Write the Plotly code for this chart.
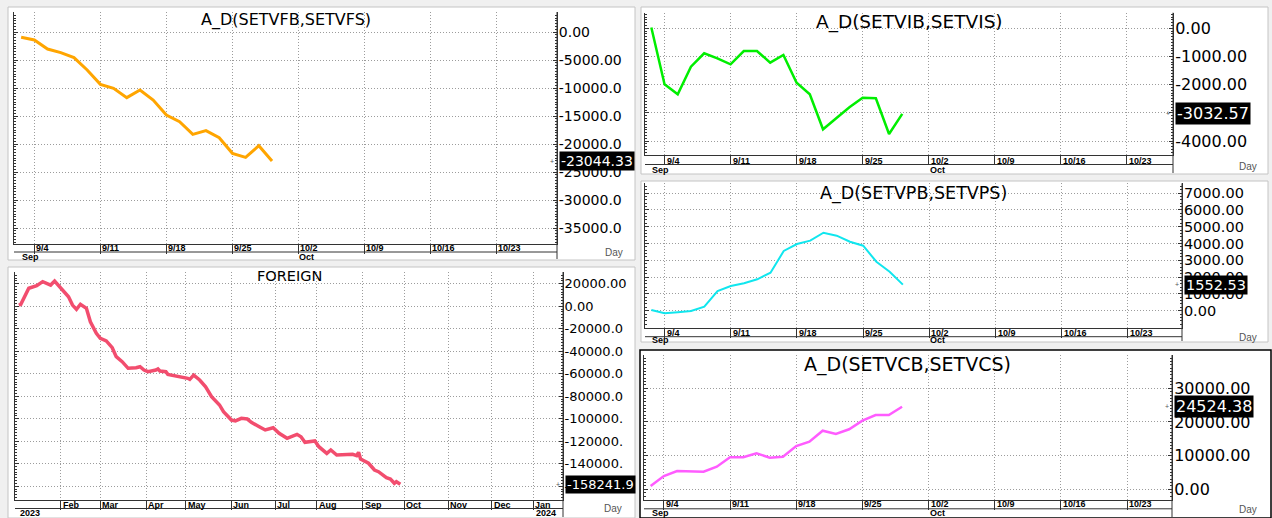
import plotly.graph_objects as go

W, H = 1272, 518

# ---------------- data ----------------
sep_dates = ["2023-09-01", "2023-09-04", "2023-09-05", "2023-09-06", "2023-09-07", "2023-09-08",
             "2023-09-11", "2023-09-12", "2023-09-13", "2023-09-14", "2023-09-15",
             "2023-09-18", "2023-09-19", "2023-09-20", "2023-09-21", "2023-09-22",
             "2023-09-25", "2023-09-26", "2023-09-27", "2023-09-28"]
ad_setvf = [-946, -1429, -3036, -3690, -4583, -6786, -9345, -10060, -11726, -10357, -12143,
            -14821, -16012, -18274, -17619, -18869, -21667, -22381, -20298, -23044.33]
ad_setvi = [30, -1986, -2340, -1362, -887, -1064, -1277, -805, -805, -1220, -947,
            -1929, -2340, -3582, -3191, -2801, -2461, -2482, -3748, -3032.57]
ad_setvp = [42, -155, -95, -18, 238, 1173, 1470, 1631, 1869, 2262, 3554,
            3970, 4167, 4643, 4464, 4107, 3869, 2917, 2321, 1552.53]
ad_setvc = [980, 3950, 5435, 5227, 5227, 6712, 9504, 9504, 10692, 9385, 9682,
            12860, 14137, 17404, 16424, 17820, 20374, 22067, 22067, 24524.38]

foreign_dates = ["2023-01-03", "2023-01-04", "2023-01-10", "2023-01-16", "2023-01-19", "2023-01-25",
                 "2023-01-27", "2023-02-01", "2023-02-07", "2023-02-09", "2023-02-13", "2023-02-15",
                 "2023-02-20", "2023-02-22", "2023-02-27", "2023-03-01", "2023-03-06", "2023-03-09",
                 "2023-03-13", "2023-03-16", "2023-03-21", "2023-03-27", "2023-03-29", "2023-03-31",
                 "2023-04-04", "2023-04-10", "2023-04-11", "2023-04-12", "2023-04-17", "2023-04-18",
                 "2023-04-24", "2023-04-27", "2023-05-02", "2023-05-03", "2023-05-05", "2023-05-10",
                 "2023-05-15", "2023-05-18", "2023-05-24", "2023-05-26", "2023-06-01", "2023-06-05",
                 "2023-06-08", "2023-06-13", "2023-06-15", "2023-06-21", "2023-06-26", "2023-06-30",
                 "2023-07-05", "2023-07-11", "2023-07-13", "2023-07-18", "2023-07-20", "2023-07-24",
                 "2023-07-31", "2023-08-02", "2023-08-08", "2023-08-10", "2023-08-15", "2023-08-22",
                 "2023-08-25", "2023-08-29", "2023-08-30", "2023-08-31", "2023-09-06", "2023-09-11",
                 "2023-09-13", "2023-09-19", "2023-09-21", "2023-09-25", "2023-09-26", "2023-09-28"]
foreign_values = [1000, 1700, 15900, 18200, 21800, 18800,
                  22400, 16400, 8400, 1000, -2800, 1700,
                  -1900, -13800, -24100, -28500, -30900, -36900,
                  -44900, -49300, -55200, -54700, -53800, -56700,
                  -58200, -56700, -55800, -57600, -58200, -60600,
                  -61800, -62700, -64100, -65000, -61200, -65600,
                  -71600, -80400, -87800, -93800, -101200, -102000,
                  -99700, -100300, -103200, -107100, -110000, -108000,
                  -113000, -117400, -116000, -113900, -116000, -121000,
                  -119800, -124900, -130800, -127800, -132300, -132300,
                  -131700, -132900, -129900, -135800, -139600, -145600,
                  -147100, -152400, -153600, -157400, -156000, -158241.9]

week_ticks = ["2023-09-04", "2023-09-11", "2023-09-18", "2023-09-25",
              "2023-10-02", "2023-10-09", "2023-10-16", "2023-10-23"]
week_labels = ["9/4", "9/11", "9/18", "9/25", "10/2", "10/9", "10/16", "10/23"]
sep_month_ticks = ["2023-09-01", "2023-10-02"]
sep_month_labels = ["Sep", "Oct"]

month_ticks = ["2023-02-01", "2023-03-01", "2023-04-03", "2023-05-01", "2023-06-01", "2023-07-03",
               "2023-08-01", "2023-09-01", "2023-10-02", "2023-11-01", "2023-12-01", "2024-01-01"]
month_labels = ["Feb", "Mar", "Apr", "May", "Jun", "Jul", "Aug", "Sep", "Oct", "Nov", "Dec", "Jan"]
year_ticks = ["2023-01-02", "2024-01-01"]
year_labels = ["2023", "2024"]

tl_yticks = [0, -5000, -10000, -15000, -20000, -25000, -30000, -35000]
tl_ytext = ["0.00", "-5000.00", "-10000.0", "-15000.0", "-20000.0", "-25000.0", "-30000.0", "-35000.0"]
bl_yticks = [20000, 0, -20000, -40000, -60000, -80000, -100000, -120000, -140000, -160000]
bl_ytext = ["20000.00", "0.00", "-20000.0", "-40000.0", "-60000.0", "-80000.0",
            "-100000.", "-120000.", "-140000.", "-160000."]
tr_yticks = [0, -1000, -2000, -3000, -4000]
tr_ytext = ["0.00", "-1000.00", "-2000.00", "-3000.00", "-4000.00"]
mr_yticks = [0, 1000, 2000, 3000, 4000, 5000, 6000, 7000]
mr_ytext = ["0.00", "1000.00", "2000.00", "3000.00", "4000.00", "5000.00", "6000.00", "7000.00"]
br_yticks = [0, 10000, 20000, 30000]
br_ytext = ["0.00", "10000.00", "20000.00", "30000.00"]

# ---------------- styling / layout ----------------
AX = "#333333"
GRID = "#9c9c9c"
TF = "DejaVu Sans"
XF = "Liberation Sans, Arial, sans-serif"

panels = [
    dict(dates=sep_dates, values=ad_setvf, title="A_D(SETVFB,SETVFS)", color="#ffa500", lw=3,
         plot=(14, 12, 557, 244), panel=(8, 7, 635, 260), border="#c4c4c4", bw=1,
         xrange=["2023-08-31 11:00", "2023-10-27 14:00"], yrange=[-37857, 3571],
         yticks=tl_yticks, ytext=tl_ytext, yminor=500, tfs=14, ttfs=16, title_y=20.5,
         xticks=week_ticks, xlabels=week_labels, mticks=sep_month_ticks, mlabels=sep_month_labels,
         row1=248.3, row2=256.7, rowline=252, day=(613.5, 252.5)),
    dict(dates=foreign_dates, values=foreign_values, title="FOREIGN", color="#f24d6e", lw=3.5,
         plot=(15, 272, 563, 500), panel=(8, 267, 635, 518), border="#c4c4c4", bw=1,
         xrange=["2022-12-30 01:30", "2024-01-19 21:00"], yrange=[-172270, 30400],
         yticks=bl_yticks, ytext=bl_ytext, yminor=2500, tfs=13, ttfs=14.5, title_y=276,
         xticks=month_ticks, xlabels=month_labels, mticks=year_ticks, mlabels=year_labels,
         row1=505.0, row2=513.3, rowline=508.5, day=(613, 508), mshift=2),
    dict(dates=sep_dates, values=ad_setvi, title="A_D(SETVIB,SETVIS)", color="#00ee00", lw=2.5,
         plot=(645, 12.7, 1173, 155), panel=(641, 7, 1268, 174), border="#c4c4c4", bw=1,
         xrange=["2023-08-31 12:30", "2023-10-26 12:00"], yrange=[-4493, 553],
         yticks=tr_yticks, ytext=tr_ytext, yminor=100, tfs=16, ttfs=18.5, title_y=21.7,
         xticks=week_ticks, xlabels=week_labels, mticks=sep_month_ticks, mlabels=sep_month_labels,
         row1=160.5, row2=170.0, rowline=164.5, day=(1247.5, 166)),
    dict(dates=sep_dates, values=ad_setvp, title="A_D(SETVPB,SETVPS)", color="#10e6ee", lw=2,
         plot=(645, 183.3, 1182, 327.7), panel=(641, 181, 1268, 342), border="#c4c4c4", bw=1,
         xrange=["2023-08-31 12:30", "2023-10-27 02:00"], yrange=[-1012, 7583],
         yticks=mr_yticks, ytext=mr_ytext, yminor=200, tfs=14.5, ttfs=17.5, title_y=193,
         xticks=week_ticks, xlabels=week_labels, mticks=sep_month_ticks, mlabels=sep_month_labels,
         row1=332.5, row2=340.0, rowline=336.7, day=(1247.5, 337)),
    dict(dates=sep_dates, values=ad_setvc, title="A_D(SETVCB,SETVCS)", color="#ff5cff", lw=2.5,
         plot=(644, 355, 1172, 500.3), panel=(640, 350, 1271, 518), border="#000000", bw=1.5,
         xrange=["2023-08-31 12:00", "2023-10-26 09:30"], yrange=[-3267, 39890],
         yticks=br_yticks, ytext=br_ytext, yminor=1000, tfs=16, ttfs=19, title_y=364,
         xticks=week_ticks, xlabels=week_labels, mticks=sep_month_ticks, mlabels=sep_month_labels,
         row1=504.2, row2=512.8, rowline=508.8, day=(1247.5, 509)),
]


def fx(px):
    return px / W


def fy(py):
    return 1 - py / H


fig = go.Figure()
axes = {}
annotations = []
shapes = []

for i, p in enumerate(panels, start=1):
    xa = "x" if i == 1 else f"x{i}"
    ya = "y" if i == 1 else f"y{i}"
    xkey = "xaxis" if i == 1 else f"xaxis{i}"
    ykey = "yaxis" if i == 1 else f"yaxis{i}"
    l, t, r, b = p["plot"]
    pl, pt, pr, pb = p["panel"]

    fig.add_trace(go.Scatter(x=p["dates"], y=p["values"], mode="lines",
                             line=dict(color=p["color"], width=p["lw"]),
                             xaxis=xa, yaxis=ya, hoverinfo="skip", showlegend=False))

    axes[xkey] = dict(domain=[fx(l), fx(r)], anchor=ya, type="date", range=p["xrange"],
                      rangebreaks=[dict(bounds=["sat", "mon"])],
                      tickmode="array", tickvals=p["xticks"], showticklabels=False,
                      ticks="outside", ticklen=9, tickcolor=AX, tickwidth=1,
                      showgrid=True, gridcolor=GRID, griddash="1px,2px", gridwidth=1,
                      showline=True, linecolor=AX, linewidth=1, zeroline=False, fixedrange=True)
    axes[ykey] = dict(domain=[fy(b), fy(t)], anchor=xa, side="right", range=p["yrange"],
                      tickmode="array", tickvals=p["yticks"], ticktext=p["ytext"],
                      tickfont=dict(family=TF, size=p["tfs"], color="#000000"),
                      ticks="inside", ticklen=4, tickcolor=AX, tickwidth=1,
                      ticklabelstandoff=-2,
                      minor=dict(tickmode="linear", tick0=0, dtick=p["yminor"], ticks="inside",
                                 ticklen=2, tickcolor=AX, showgrid=False),
                      mirror="ticks", showline=True, linecolor=AX, linewidth=1,
                      showgrid=True, gridcolor=GRID, griddash="1px,2px", gridwidth=1,
                      zeroline=False, fixedrange=True)

    # panel background & border
    shapes.append(dict(type="rect", xref="paper", yref="paper", layer="below",
                       x0=fx(pl), x1=fx(pr), y0=fy(pb), y1=fy(pt),
                       fillcolor="white", line=dict(color=p["border"], width=p["bw"])))
    # right axis line extended to the panel bottom
    shapes.append(dict(type="line", xref="paper", yref="paper",
                       x0=fx(r), x1=fx(r), y0=fy(t), y1=fy(pb - 1),
                       line=dict(color=AX, width=1)))
    # line closing the date-label row
    shapes.append(dict(type="line", xref="paper", yref="paper",
                       x0=fx(l), x1=fx(r), y0=fy(p["rowline"]), y1=fy(p["rowline"]),
                       line=dict(color=AX, width=1)))

    # title
    annotations.append(dict(text=p["title"], xref="paper", yref="paper",
                            x=fx((l + r) / 2), y=fy(p["title_y"]), xanchor="center", yanchor="middle",
                            showarrow=False, font=dict(family=TF, size=p["ttfs"], color="#000000")))
    # date labels
    for d, txt in zip(p["xticks"], p["xlabels"]):
        annotations.append(dict(text=txt, x=d, xref=xa, y=fy(p["row1"]), yref="paper",
                                xanchor="left", yanchor="middle", showarrow=False, borderpad=0,
                                xshift=1, font=dict(family=XF, size=9, color="#000000", weight="bold")))
    for d, txt in zip(p["mticks"], p["mlabels"]):
        annotations.append(dict(text=txt, x=d, xref=xa, y=fy(p["row2"]), yref="paper",
                                xanchor="left", yanchor="middle", showarrow=False, borderpad=0,
                                xshift=p.get("mshift", 0),
                                font=dict(family=XF, size=9, color="#000000", weight="bold")))
    # "Day" unit label
    annotations.append(dict(text="Day", xref="paper", yref="paper", x=fx(p["day"][0]), y=fy(p["day"][1]),
                            xanchor="center", yanchor="middle", showarrow=False,
                            font=dict(family=XF, size=10, color="#555555")))
    # last value box
    last = p["values"][-1]
    s = f"{last:.2f}"[:9]
    annotations.append(dict(text=s, xref="paper", yref=ya, x=fx(r + 2), y=last,
                            xanchor="left", yanchor="middle", showarrow=False,
                            bgcolor="#000000", borderpad=1,
                            font=dict(family=TF, size=p["tfs"], color="#ffffff")))
    annotations.append(dict(text="+", xref="paper", yref=ya, x=fx(r - 1), y=last,
                            xanchor="right", yanchor="middle", showarrow=False,
                            font=dict(family=XF, size=7, color="#555555")))

fig.update_layout(width=W, height=H, margin=dict(l=0, r=0, t=0, b=0),
                  paper_bgcolor="#f0f0f0", plot_bgcolor="white",
                  showlegend=False, hovermode=False,
                  annotations=annotations, shapes=shapes, **axes)

fig.write_html("out.html",
               config={"displayModeBar": False, "staticPlot": True},
               post_script="document.body.style.margin='0';document.body.style.padding='0';"
                           "document.body.style.background='#f0f0f0';"
                           "document.body.style.overflow='hidden';")
